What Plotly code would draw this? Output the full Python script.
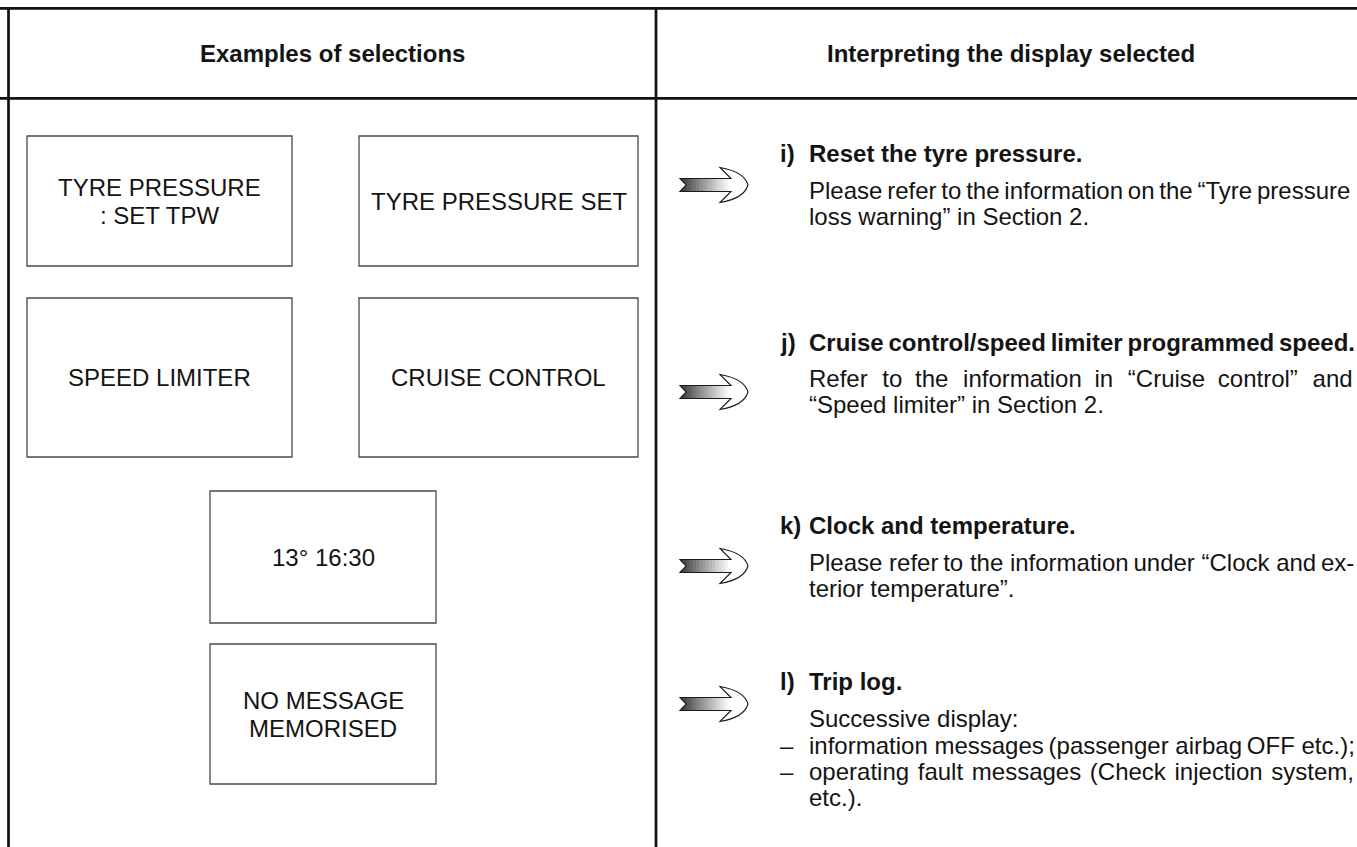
import plotly.graph_objects as go

# ---- content ----
headers = ["Examples of selections", "Interpreting the display selected"]
box_labels = [["TYRE PRESSURE", ": SET TPW"], ["TYRE PRESSURE SET"], ["SPEED LIMITER"],
              ["CRUISE CONTROL"], ["13° 16:30"], ["NO MESSAGE", "MEMORISED"]]
item_titles = ["i)", "j)", "k)", "l)"]
item_headings = ["Reset the tyre pressure.",
                 "Cruise control/speed limiter programmed speed.",
                 "Clock and temperature.",
                 "Trip log."]
item_bodies = [
    ["Please refer to the information on the “Tyre pressure", "loss warning” in Section 2."],
    ["Refer to the information in “Cruise control” and", "“Speed limiter” in Section 2."],
    ["Please refer to the information under “Clock and ex-", "terior temperature”."],
    ["Successive display:", "–|information messages (passenger airbag OFF etc.);",
     "–|operating fault messages (Check injection system,", "etc.)."],
]

# ---- layout geometry (page pixels) ----
W, H = 1357, 847
boxes = [(27, 136, 292, 266), (359, 136, 638, 266), (27, 298, 292, 457),
         (359, 298, 638, 457), (210, 491, 436, 623), (210, 644, 436, 784)]
item_head_y = [153, 342, 525, 681]
item_body_y = [[190, 216], [378, 404], [562, 588], [718, 745, 771, 797]]
arrow_y = [185, 392, 566, 704]
LABEL_X, TEXT_X = 778, 807

# word spacing used to mimic the justified column (per line: list of space chars)
THIN, WIDE, MID, HAIR = "\u2009", " \u2004", " \u2005", " \u200a"


def justify(s, seps):
    words = s.split(" ")
    out = words[0]
    for i, w in enumerate(words[1:]):
        out += seps[i % len(seps)] + w
    return out


spacing = {
    "Please refer to the information on the “Tyre pressure": [THIN],
    "Cruise control/speed limiter programmed speed.": [THIN],
    "Refer to the information in “Cruise control” and": [WIDE, MID],
    "Please refer to the information under “Clock and ex-": [" ", THIN, " "],
    "information messages (passenger airbag OFF etc.);": [" ", THIN],
    "operating fault messages (Check injection system,": [HAIR],
}

FONT = "Liberation Sans, Arial, sans-serif"
FS = 24
INK = "#141414"
fig = go.Figure()
shapes = []
ann = []


def text(x, y, s, anchor="left", bold=False):
    if s in spacing:
        s = justify(s, spacing[s])
    ann.append(dict(x=x, y=y, text=("<b>%s</b>" % s) if bold else s, xanchor=anchor,
                    yanchor="middle", showarrow=False,
                    font=dict(size=FS, family=FONT, color=INK)))


line = dict(color="#111", width=2.7)
shapes.append(dict(type="line", x0=0, x1=W, y0=8.3, y1=8.3, line=line))
shapes.append(dict(type="line", x0=0, x1=W, y0=98.3, y1=98.3, line=line))
shapes.append(dict(type="line", x0=8.5, x1=8.5, y0=8, y1=H, line=line))
shapes.append(dict(type="line", x0=656, x1=656, y0=8, y1=H, line=line))

text(332.5, 53, headers[0], "center", True)
text(1011, 53, headers[1], "center", True)

for (x0, y0, x1, y1), lines in zip(boxes, box_labels):
    shapes.append(dict(type="rect", x0=x0, x1=x1, y0=y0, y1=y1,
                       line=dict(color="#4a4a4a", width=1.3)))
    cy = (y0 + y1) / 2
    n = len(lines)
    for i, s in enumerate(lines):
        text((x0 + x1) / 2, cy + (i - (n - 1) / 2) * 28, s, "center")

for t, h, hy, bodies, bys in zip(item_titles, item_headings, item_head_y, item_bodies, item_body_y):
    text(LABEL_X, hy, t, bold=True)
    text(TEXT_X, hy, h, bold=True)
    for b, by in zip(bodies, bys):
        if b.startswith("–|"):
            text(LABEL_X, by, "–")
            b = b[2:]
        text(TEXT_X, by, b)

# arrows (gradient shaft with notched tail, outlined head)
for cy in arrow_y:
    x0, xn, xs, xb, tip = 680, 686, 731, 720, 748
    hs, hh = 6.5, 17.5
    n = 16
    for k in range(n):
        g = int(55 + 200 * (k / (n - 1)) ** 0.9)
        xa = x0 + (xs - x0) * k / n
        xe = x0 + (xs - x0) * (k + 1) / n + 0.6
        shapes.append(dict(type="rect", x0=xa, x1=xe, y0=cy - hs, y1=cy + hs,
                           fillcolor=f"rgb({g},{g},{g})", line=dict(width=0), layer="above"))
    shapes.append(dict(type="path",
                       path=f"M {x0-1},{cy-hs-0.5} L {xn},{cy} L {x0-1},{cy+hs+0.5} Z",
                       fillcolor="white", line=dict(width=0)))
    shapes.append(dict(type="path",
                       path=(f"M {x0},{cy-hs} L {xs},{cy-hs} L {xb},{cy-hh} "
                             f"Q {tip-4},{cy-hh+4} {tip},{cy} Q {tip-4},{cy+hh-4} {xb},{cy+hh} "
                             f"L {xs},{cy+hs} L {x0},{cy+hs} L {xn},{cy} Z"),
                       fillcolor="rgba(0,0,0,0)", line=dict(color="#1a1a1a", width=1.1)))

fig.update_layout(
    width=W, height=H, margin=dict(l=0, r=0, t=0, b=0),
    paper_bgcolor="white", plot_bgcolor="white",
    xaxis=dict(range=[0, W], visible=False, fixedrange=True),
    yaxis=dict(range=[H, 0], visible=False, fixedrange=True),
    shapes=shapes, annotations=ann, showlegend=False,
)
fig.write_html("out.html", config={"displayModeBar": False},
               post_script="document.body.style.margin='0px';document.body.style.overflow='hidden';")
